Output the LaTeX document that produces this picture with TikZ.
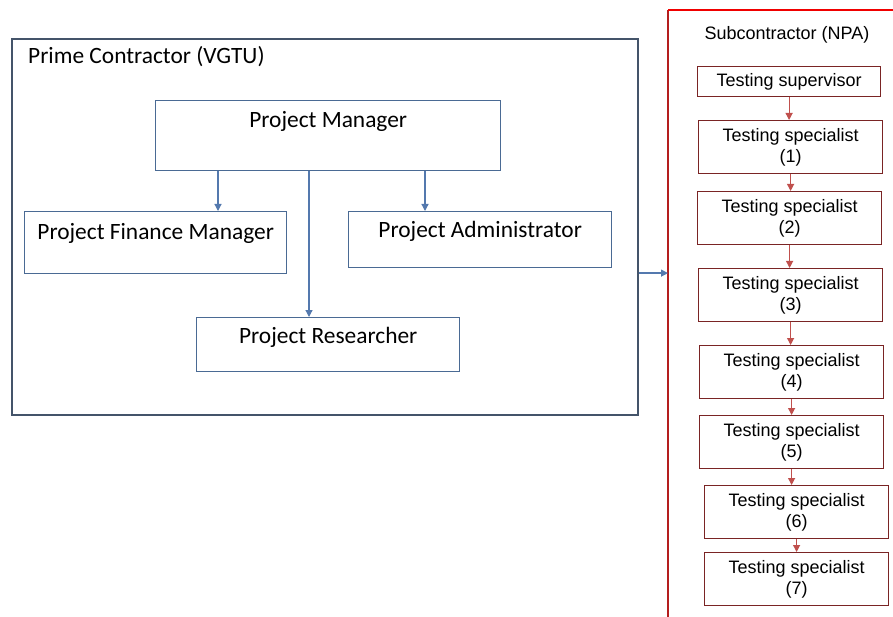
\documentclass[tikz,border=0pt]{standalone}
\usepackage{fontspec}
\newfontfamily\calibri{Carlito}
\newfontfamily\arial{Liberation Sans}
\usetikzlibrary{arrows.meta,calc}
\definecolor{frameblue}{HTML}{44546A}
\definecolor{boxblue}{HTML}{4A6A94}
\definecolor{arrblue}{HTML}{5479AE}
\definecolor{subred}{HTML}{F00000}
\definecolor{subdark}{HTML}{B41E1E}
\definecolor{boxred}{HTML}{7A2424}
\definecolor{arrred}{HTML}{C0504D}

\begin{document}
\begin{tikzpicture}[x=1pt,y=-1pt,
    role/.style={draw=boxblue, line width=1.4pt, inner sep=0pt, anchor=north west,
        font=\calibri\fontsize{23.4}{27}\selectfont},
    tester/.style={draw=boxred, line width=1.2pt, inner sep=0pt, anchor=north west,
        align=center, minimum width=184pt, minimum height=53pt,
        font=\arial\fontsize{18}{21}\selectfont},
    blueline/.style={draw=arrblue, line width=1.2pt, -{Triangle[length=7pt,width=7pt]}},
    redline/.style={draw=arrred, line width=1.1pt, -{Triangle[length=7pt,width=7pt]}}]
    \useasboundingbox (0,0) rectangle (893,617);
    \clip (0,0) rectangle (893,617);

    % prime contractor
    \node[draw=frameblue, line width=2.2pt, inner sep=0pt, anchor=north west,
        minimum width=626pt, minimum height=376pt] (prime) at (11,38) {};
    \node[anchor=base west, inner sep=0pt, font=\calibri\fontsize{23.4}{27}\selectfont]
        (primelbl) at (28,64) {Prime Contractor (VGTU)};

    \node[role, minimum width=345pt, text height=27pt, text depth=43pt] (pm) at (155,100) {Project Manager};
    \node[role, minimum width=262pt, text height=28pt, text depth=34pt] (pfm) at (24,211) {Project Finance Manager};
    \node[role, minimum width=263pt, text height=26pt, text depth=30pt] (pa) at (348,211) {Project Administrator};
    \node[role, minimum width=263pt, text height=26pt, text depth=28pt] (pr) at (196,317) {Project Researcher};

    \draw[blueline] ([xshift=63pt]pm.south west) -- ([xshift=63pt]pm.south west |- pfm.north);
    \draw[blueline] ([xshift=154pt]pm.south west) -- ([xshift=154pt]pm.south west |- pr.north);
    \draw[blueline] ([xshift=270pt]pm.south west) -- ([xshift=270pt]pm.south west |- pa.north);

    % subcontractor
    \coordinate (subtl) at (668,10);
    \draw[subdark, line width=2pt] (subtl) -- ++(0,640);
    \draw[subred, line width=2pt] (subtl) -- ++(260,0);
    \node[anchor=base, inner sep=0pt, font=\arial\fontsize{18}{21}\selectfont]
        (sublbl) at (787,40) {Subcontractor (NPA)};

    \coordinate (link) at ([yshift=-46pt]prime.east);
    \draw[blueline] (link) -- (link -| subtl);

    \node[tester, minimum width=183pt, minimum height=30pt] (tsup) at (697,66) {Testing supervisor};
    \foreach \n/\x/\y in {1/698/120, 2/697/191, 3/698/268, 4/699/345, 5/699/415, 6/704/485, 7/704/552}
        \node[tester] (ts\n) at (\x,\y) {Testing specialist\\(\n)};

    \draw[redline] (tsup.south) -- (tsup.south |- ts1.north);
    \foreach \a/\b in {1/2, 2/3, 3/4, 4/5, 5/6, 6/7}
        \draw[redline] (ts\a.south) -- (ts\a.south |- ts\b.north);
\end{tikzpicture}
\end{document}
